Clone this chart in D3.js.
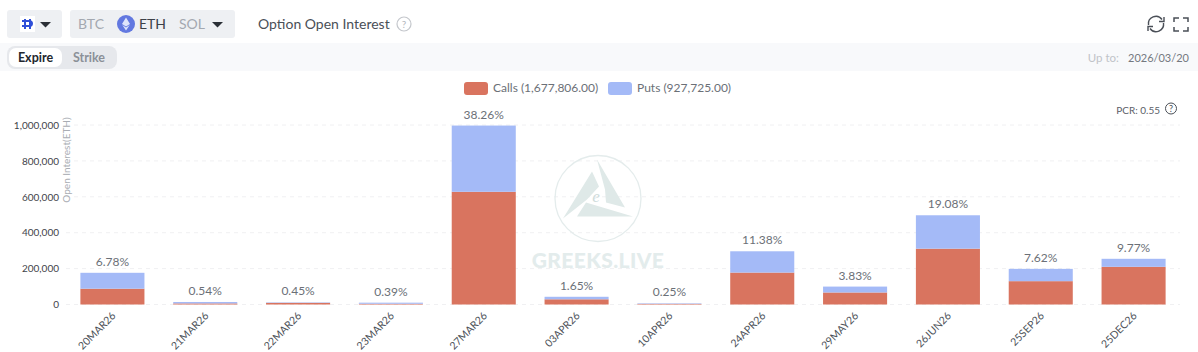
<!DOCTYPE html>
<html>
<head>
<meta charset="utf-8">
<script src="https://cdn.jsdelivr.net/npm/d3@7/dist/d3.min.js"></script>
<style>
html,body{margin:0;padding:0;background:#fff;overflow:hidden;}
svg{display:block;font-family:"Lato",sans-serif;}
</style>
</head>
<body>
<div id="chart"></div>
<script>
var expiries=["20MAR26","21MAR26","22MAR26","23MAR26","27MAR26","03APR26","10APR26","24APR26","29MAY26","26JUN26","25SEP26","25DEC26"];
var calls=[88000,6000,9000,4000,628000,29000,3500,178000,67000,311000,130000,210000];
var puts=[88600,8000,2700,6200,368900,14000,3000,118500,32800,186100,68500,44600];
var shares=["6.78%","0.54%","0.45%","0.39%","38.26%","1.65%","0.25%","11.38%","3.83%","19.08%","7.62%","9.77%"];
var yTicks=[0,200000,400000,600000,800000,1000000];
var seriesNames=["Calls (1,677,806.00)","Puts (927,725.00)"];

var W=1198,H=352;
var callColor="#d9745f",putColor="#a4baf7";
var svg=d3.select("#chart").append("svg").attr("width",W).attr("height",H);

// header bar, buttons
var ui=svg.append("g");
ui.append("rect").attr("x",0).attr("y",43).attr("width",W).attr("height",28).attr("fill","#f8f9fb");
ui.append("rect").attr("x",7).attr("y",10).attr("width",55).attr("height",28).attr("rx",3).attr("fill","#eef0f3");
ui.append("rect").attr("x",70).attr("y",10).attr("width",165).attr("height",28).attr("rx",3).attr("fill","#eef0f3");
ui.append("rect").attr("x",20).attr("y",16).attr("width",15).attr("height",16).attr("fill","#fff");
ui.append("path").attr("d","M25 19V29M30 19V29M22 21H29Q32 21 32 23.5Q32 26 29 26H22").attr("fill","none").attr("stroke","#2f4fd8").attr("stroke-width",2);
function caret(x,y){ui.append("path").attr("d","M"+x+" "+y+"h11l-5.5 5.5z").attr("fill","#2a2f36");}
caret(40,22);caret(212,22);

function label(x,y,t,size,color,weight,anchor){
    return ui.append("text").attr("x",x).attr("y",y).attr("font-size",size).attr("fill",color)
        .attr("font-weight",weight||400).attr("text-anchor",anchor||"start").text(t);
}
label(78,29,"BTC",14,"#a3a8b0");
ui.append("circle").attr("cx",126).attr("cy",24).attr("r",9).attr("fill","#6278e0");
ui.append("path").attr("d","M126 17.5L130 24L126 26.5L122 24ZM122.3 25L126 27.5L129.7 25L126 30.5Z").attr("fill","#dfe5fb");
label(139,29,"ETH",14,"#3c4148");
label(179,29,"SOL",14,"#a3a8b0");
label(258,29,"Option Open Interest",14,"#4a4f57");
ui.append("circle").attr("cx",404).attr("cy",24).attr("r",7).attr("fill","none").attr("stroke","#c4c7cc").attr("stroke-width",1.2);
label(404,28,"?",10,"#b4b8be",400,"middle");

ui.append("rect").attr("x",7).attr("y",46).attr("width",110).attr("height",23).attr("rx",8).attr("fill","#e6e8ec");
ui.append("rect").attr("x",9).attr("y",48).attr("width",53).attr("height",19).attr("rx",7).attr("fill","#fff");
label(35.5,62,"Expire",12.5,"#23272e",700,"middle");
label(89,62,"Strike",12.5,"#8b9098",700,"middle");

label(1119,62,"Up to:",11.5,"#c0c3c8",400,"end");
label(1189,62,"2026/03/20",11,"#74787f",400,"end");

// refresh + fullscreen
ui.append("path").attr("d","M1148.5 25A7.5 7.5 0 0 1 1162 19.5M1163.5 23A7.5 7.5 0 0 1 1150 28.5").attr("fill","none").attr("stroke","#4a4f57").attr("stroke-width",1.4);
ui.append("path").attr("d","M1164 17V21.5H1159M1148 31V26.5H1153").attr("fill","none").attr("stroke","#4a4f57").attr("stroke-width",1.4);
ui.append("path").attr("d","M1174 22V18H1179M1183 18H1188V22M1188 27V31H1183M1179 31H1174V27").attr("fill","none").attr("stroke","#4a4f57").attr("stroke-width",1.5);

// scales
var x=d3.scaleBand().domain(expiries).range([66,1180]).paddingInner(0.31).paddingOuter(0.155);
var y=d3.scaleLinear().domain([0,1000000]).range([304.5,125]);

// grid
svg.append("g").selectAll("line").data(yTicks).enter().append("line")
    .attr("x1",66).attr("x2",1180)
    .attr("y1",function(d){return y(d);}).attr("y2",function(d){return y(d);})
    .attr("stroke","#f0f0f2").attr("stroke-dasharray","4 4");

// watermark
var wm=svg.append("g").attr("transform","translate(598,198.5)");
wm.append("circle").attr("r",43).attr("fill","none").attr("stroke","#e4ecec").attr("stroke-width",1.3);
wm.append("path").attr("d","M-6 -27L1 -12L-11 1L-35 20ZM-1 -39L27 9L8 4L7 -9ZM-12 4L35 18L-21 18Z").attr("fill","#dfe9e8");
wm.append("text").attr("x",-2).attr("y",3).attr("font-size",17).attr("font-family","Liberation Serif").attr("font-style","italic").attr("fill","#cfdcdb").attr("text-anchor","middle").text("e");
wm.append("text").attr("x",0).attr("y",69).attr("font-size",21).attr("font-weight",900).attr("letter-spacing",0.4).attr("fill","#e3ecec").attr("text-anchor","middle").text("GREEKS.LIVE");

// y axis
var yAxis=d3.axisLeft(y).tickValues(yTicks).tickSize(0).tickPadding(0).tickFormat(d3.format(","));
var yG=svg.append("g").attr("transform","translate(59,0)").call(yAxis);
yG.select(".domain").remove();
yG.selectAll("text").attr("font-family","Lato").attr("font-size",10).attr("fill","#3f444b");
svg.append("text").attr("transform","translate(70,160) rotate(-90)").attr("text-anchor","middle")
    .attr("font-size",10).attr("fill","#a9adb3").text("Open Interest(ETH)");

// x axis
var xAxis=d3.axisBottom(x).tickSize(0).tickPadding(0);
var xG=svg.append("g").attr("transform","translate(0,304.5)").call(xAxis);
xG.select(".domain").remove();
xG.selectAll("text").attr("font-family","Lato").attr("font-size",10.5).attr("fill","#4d5259")
    .attr("text-anchor","end").attr("dy",0).attr("transform","translate(4,12) rotate(-45)");

// bars
var marks=svg.append("g");
marks.selectAll("rect.call").data(expiries).enter().append("rect").attr("class","call")
    .attr("x",function(d){return x(d);}).attr("width",x.bandwidth())
    .attr("y",function(d,i){return y(calls[i]);})
    .attr("height",function(d,i){return y(0)-y(calls[i]);})
    .attr("fill",callColor);
marks.selectAll("rect.put").data(expiries).enter().append("rect").attr("class","put")
    .attr("x",function(d){return x(d);}).attr("width",x.bandwidth())
    .attr("y",function(d,i){return y(calls[i]+puts[i]);})
    .attr("height",function(d,i){return y(calls[i])-y(calls[i]+puts[i]);})
    .attr("fill",putColor);
marks.selectAll("text").data(expiries).enter().append("text")
    .attr("x",function(d){return x(d)+x.bandwidth()/2;})
    .attr("y",function(d,i){return y(calls[i]+puts[i])-7;})
    .attr("text-anchor","middle").attr("font-size",12).attr("fill","#6b7077")
    .text(function(d,i){return shares[i];});

// legend
var legendX=[464,608],legendColors=[callColor,putColor];
seriesNames.forEach(function(s,i){
    svg.append("rect").attr("x",legendX[i]).attr("y",82).attr("width",24).attr("height",13).attr("rx",3).attr("fill",legendColors[i]);
    svg.append("text").attr("x",legendX[i]+29).attr("y",92).attr("font-size",12).attr("fill","#6b7077").text(s);
});

// pcr
svg.append("text").attr("x",1160).attr("y",114).attr("text-anchor","end").attr("font-size",10).attr("fill","#5b6067").text("PCR: 0.55");
svg.append("circle").attr("cx",1171).attr("cy",108.5).attr("r",5.5).attr("fill","none").attr("stroke","#4a4f57").attr("stroke-width",1);
svg.append("text").attr("x",1171).attr("y",112).attr("text-anchor","middle").attr("font-size",9).attr("fill","#4a4f57").text("?");
</script>
</body>
</html>
